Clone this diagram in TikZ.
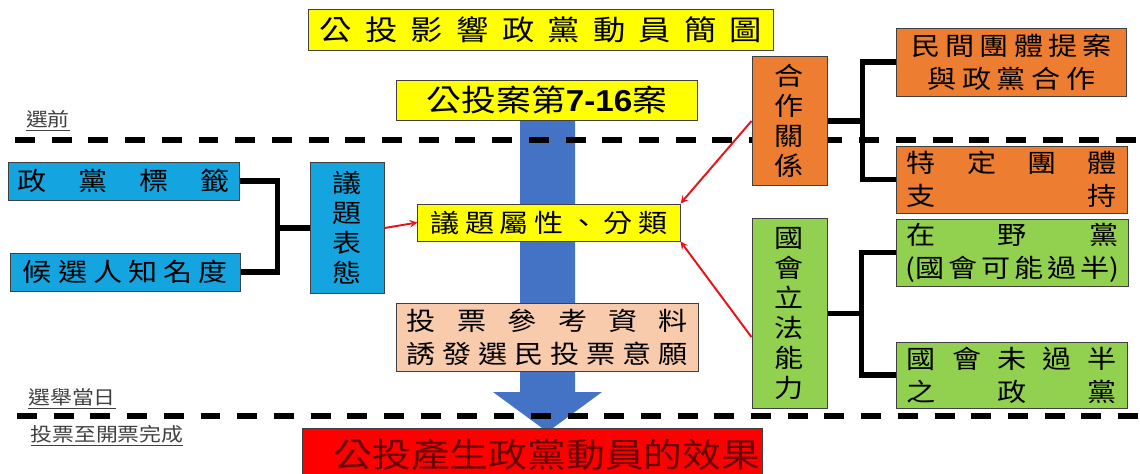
\documentclass[tikz,border=0pt]{standalone}
\usepackage{fontspec}
\newfontfamily\cjk[FakeStretch=1.15]{Noto Sans CJK TC}
\newfontfamily\digits[FakeStretch=1.1]{Liberation Sans}

\definecolor{edgegray}{HTML}{404040}
\definecolor{titleyellow}{HTML}{FFFF00}
\definecolor{tagblue}{HTML}{14A5E0}
\definecolor{arrowblue}{HTML}{4472C4}
\definecolor{cooporange}{HTML}{ED7D31}
\definecolor{leggreen}{HTML}{92D050}
\definecolor{refsalmon}{HTML}{F8CBAD}
\definecolor{linkred}{HTML}{E8141C}

\newcommand\spreadcm[2]{\makebox[#1cm][s]{#2}}

\tikzset{
  card/.style={draw=edgegray, line width=0.7pt, inner sep=0pt, align=center,
    font={\cjk\fontsize{18}{23.5}\selectfont}},
  column/.style={card, font={\cjk\fontsize{18}{21.3}\selectfont}},
  bracket/.style={line width=4.2pt},
  link/.style={->, draw=linkred, line width=1.4pt},
  divider/.style={line width=3.6pt, dash pattern=on 14.2pt off 11.9pt},
  phase/.style={font={\cjk\fontsize{13.5}{16}\selectfont}, text=black!75}
}

\begin{document}
\begin{tikzpicture}[x=0.025cm, y=-0.025cm, >=stealth]
  \useasboundingbox (0,0) rectangle (1140,474);

  % Big downward arrow (behind the boxes)
  \fill[arrowblue] (520,118) -- (575,118) -- (575,392) -- (602,392)
    -- (547.5,432) -- (493,392) -- (520,392) -- cycle;

  % Phase dividers and their labels
  \draw[divider] (15,140) -- (1140,140);
  \draw[divider] (17,416) -- (1140,416);
  \node[phase] (before) at (48,121) {\underline{選前}};
  \node[phase] (eday) at (72,399) {\underline{選舉當日}};
  \node[phase] (count) at (107,436) {\underline{投票至開票完成}};

  % Title and referendum cases
  \node[card, fill=titleyellow, minimum width=11.6cm, minimum height=1.025cm,
    font={\cjk\fontsize{20}{24}\selectfont}] (title) at (541,29.5)
    {\spreadcm{11.05}{公\hfill 投\hfill 影\hfill 響\hfill 政\hfill 黨\hfill 動\hfill 員\hfill 簡\hfill 圖}};
  \node[card, fill=titleyellow, minimum width=7.5cm, minimum height=1cm,
    font={\cjk\fontsize{21.5}{25}\selectfont}] (cases) at (547,100)
    {公投案第{\digits\bfseries 7-16}案};

  % Left side: party label and candidate fame
  \node[card, fill=tagblue, minimum width=5.75cm, minimum height=0.95cm] (tag) at (124,181)
    {\spreadcm{5.3}{政\hfill 黨\hfill 標\hfill 籤}};
  \node[card, fill=tagblue, minimum width=5.725cm, minimum height=0.95cm] (fame) at (125.5,272)
    {\spreadcm{5.125}{候\hfill 選\hfill 人\hfill 知\hfill 名\hfill 度}};
  \node[column, fill=tagblue, minimum width=1.85cm, minimum height=3.25cm] (stance) at (347,228)
    {議\\題\\表\\態};
  \coordinate (lj) at ([xshift=-0.8cm]stance.west);
  \draw[bracket] (tag.east) -| (lj) |- (fame.east);
  \draw[bracket] (lj) -- (stance.west);

  % Middle: issue attribute and voting reference
  \node[card, fill=titleyellow, minimum width=6.55cm, minimum height=0.925cm] (attr) at (549,222.5)
    {\spreadcm{5.925}{議\hfill 題\hfill 屬\hfill 性\hfill 、\hfill 分\hfill 類}};
  \node[card, fill=refsalmon, minimum width=7.525cm, minimum height=1.7cm] (ref) at (547.5,337)
    {\spreadcm{7.025}{投\hfill 票\hfill 參\hfill 考\hfill 資\hfill 料}\\
     \spreadcm{7.025}{誘\hfill 發\hfill 選\hfill 民\hfill 投\hfill 票\hfill 意\hfill 願}};

  % Right side: cooperation
  \node[column, fill=cooporange, minimum width=1.875cm, minimum height=3.2cm] (coop) at (789.5,121)
    {合\\作\\關\\係};
  \node[card, fill=cooporange, minimum width=5.725cm, minimum height=1.7cm] (civic) at (1011.5,62)
    {\spreadcm{5}{民\hfill 間\hfill 團\hfill 體\hfill 提\hfill 案}\\
     \spreadcm{4.2}{與\hfill 政\hfill 黨\hfill 合\hfill 作}};
  \node[card, fill=cooporange, minimum width=5.75cm, minimum height=1.675cm] (group) at (1012,179.5)
    {\spreadcm{5.25}{特\hfill 定\hfill 團\hfill 體}\\
     \spreadcm{5.25}{支\hfill 持}};
  \coordinate (cj) at ([xshift=0.875cm]coop.east);
  \draw[bracket] (civic.west) -| (cj) |- (group.west);
  \draw[bracket] (coop.east) -- (cj);

  % Right side: legislative power
  \node[column, fill=leggreen, minimum width=1.875cm, minimum height=4.725cm] (legis) at (789.5,313.5)
    {國\\會\\立\\法\\能\\力};
  \node[card, fill=leggreen, minimum width=5.775cm, minimum height=1.675cm] (opp) at (1012.5,252.5)
    {\spreadcm{5.3}{在\hfill 野\hfill 黨}\\
     \spreadcm{5.35}{(國\hfill 會\hfill 可\hfill 能\hfill 過\hfill 半)}};
  \node[card, fill=leggreen, minimum width=5.75cm, minimum height=1.65cm] (minor) at (1012,375)
    {\spreadcm{5.25}{國\hfill 會\hfill 未\hfill 過\hfill 半}\\
     \spreadcm{5.25}{之\hfill 政\hfill 黨}};
  \coordinate (gj) at ([xshift=0.85cm]legis.east);
  \draw[bracket] (opp.west) -| (gj) |- (minor.west);
  \draw[bracket] (legis.east) -- (gj);

  % Red links into the issue attribute
  \draw[link] (stance.east) -- (attr.west);
  \draw[link] (coop.west) -- (attr.north east);
  \draw[link] ([yshift=-0.59cm]legis.west) -- (attr.south east);

  % Outcome
  \node[card, fill=red, text=red!40!black, minimum width=11.475cm, minimum height=1.35cm,
    font={\cjk\fontsize{24}{28}\selectfont}] (effect) at (532.5,455)
    {\spreadcm{9.95}{公\hfill 投\hfill 產\hfill 生\hfill 政\hfill 黨\hfill 動\hfill 員\hfill 的\hfill 效\hfill 果}};
\end{tikzpicture}
\end{document}
